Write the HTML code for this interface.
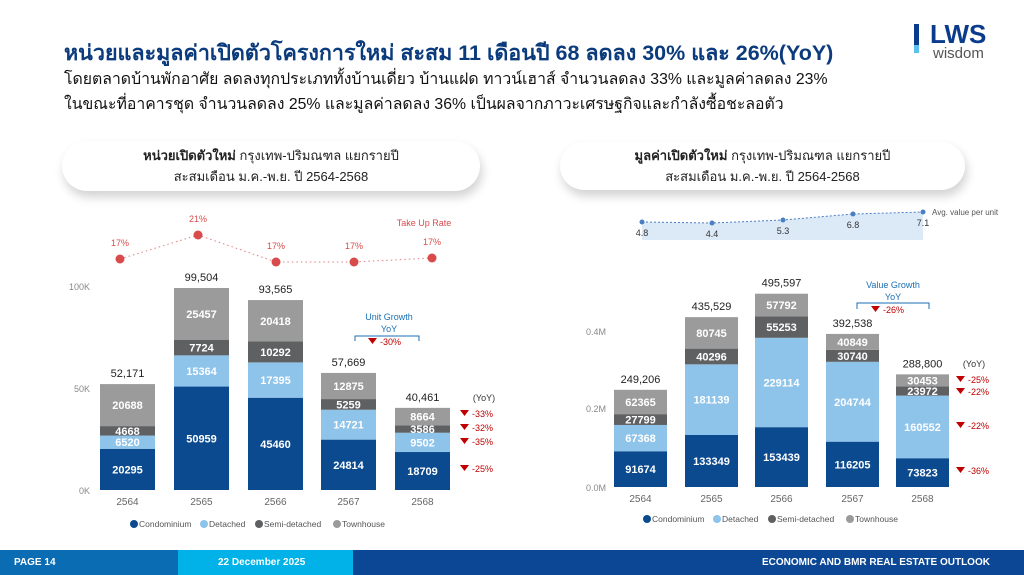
<!DOCTYPE html>
<html><head><meta charset="utf-8"><style>
body{margin:0;width:1024px;height:575px;overflow:hidden;background:#fff;font-family:"Liberation Sans","Noto Sans CJK SC",sans-serif;position:relative}
.t{position:absolute;white-space:nowrap}
.box{position:absolute;background:#fff;border-radius:26px;box-shadow:2px 6px 10px rgba(0,0,0,0.18);text-align:center;font-size:13px;line-height:21px;color:#222}
</style></head><body>
<div class="t" style="left:64px;top:36px;font-size:21.5px;font-weight:bold;color:#0b3b7c">หน่วยและมูลค่าเปิดตัวโครงการใหม่ สะสม 11 เดือนปี 68 ลดลง 30% และ 26%(YoY)</div>
<div class="t" style="left:64px;top:66px;font-size:15.8px;color:#111">โดยตลาดบ้านพักอาศัย ลดลงทุกประเภททั้งบ้านเดี่ยว บ้านแฝด ทาวน์เฮาส์ จำนวนลดลง 33% และมูลค่าลดลง 23%</div>
<div class="t" style="left:64px;top:91px;font-size:15.8px;color:#111">ในขณะที่อาคารชุด จำนวนลดลง 25% และมูลค่าลดลง 36% เป็นผลจากภาวะเศรษฐกิจและกำลังซื้อชะลอตัว</div>
<div style="position:absolute;left:914px;top:24px;width:5px;height:21px;background:#0b3b8c"></div>
<div style="position:absolute;left:914px;top:45px;width:5px;height:8px;background:#5bc0eb"></div>
<div class="t" style="left:930px;top:19px;font-size:26px;font-weight:bold;color:#0b3b8c">LWS</div>
<div class="t" style="left:933px;top:45px;font-size:15px;color:#555">wisdom</div>
<div class="box" style="left:62px;top:141px;width:418px;height:50px;padding-top:4px;box-sizing:border-box"><b>หน่วยเปิดตัวใหม่</b> กรุงเทพ-ปริมณฑล แยกรายปี<br>สะสมเดือน ม.ค.-พ.ย. ปี 2564-2568</div>
<div class="box" style="left:560px;top:142px;width:405px;height:48px;padding-top:3px;box-sizing:border-box"><b>มูลค่าเปิดตัวใหม่</b> กรุงเทพ-ปริมณฑล แยกรายปี<br>สะสมเดือน ม.ค.-พ.ย. ปี 2564-2568</div>
<svg id="s" width="1024" height="575" style="position:absolute;left:0;top:0" font-family="Liberation Sans, sans-serif"></svg>
<div style="position:absolute;left:0;top:550px;width:178px;height:25px;background:#0a6db3"></div>
<div style="position:absolute;left:178px;top:550px;width:175px;height:25px;background:#00b2e8"></div>
<div style="position:absolute;left:353px;top:550px;width:671px;height:25px;background:#0b4794"></div>
<div class="t" style="left:14px;top:557px;font-size:10px;font-weight:bold;color:#fff">PAGE 14</div>
<div class="t" style="left:218px;top:557px;font-size:10px;font-weight:bold;color:#fff">22 December 2025</div>
<div class="t" style="left:762px;top:557px;font-size:10px;font-weight:bold;color:#fff">ECONOMIC AND BMR REAL ESTATE OUTLOOK</div>
<script>
var s=document.getElementById('s'),h='';
var C=['#0b4a8f','#8ec3ea','#5f6062','#9b9b9b'];
function T(x,y,t,sz,c,a,w){h+='<text x="'+x+'" y="'+y+'" font-size="'+sz+'" fill="'+c+'" text-anchor="'+(a||'middle')+'"'+(w?' font-weight="bold"':'')+'>'+t+'</text>';}
function chart(xs,bw,base,k,data,tot,years){
 data.forEach(function(d,i){var y=base;d.forEach(function(v,j){var hh=v*k;h+='<rect x="'+xs[i]+'" y="'+(y-hh)+'" width="'+bw+'" height="'+hh+'" fill="'+C[j]+'"/>';T(xs[i]+bw/2,y-hh/2+4,v,11,'#fff','middle',1);y-=hh;});
 T(xs[i]+bw/2,y-7,tot[i],11,'#222','middle');T(xs[i]+bw/2,base+15,years[i],10,'#666');});
}
function tri(x,y,t){h+='<path d="M'+x+' '+(y-4)+'h9l-4.5 6z" fill="#c00000"/>';T(x+12,y+3,t,9,'#c00000','start');}
var Y=['2564','2565','2566','2567','2568'];
T(90,290,'100K',9,'#888','end');T(90,392,'50K',9,'#888','end');T(90,494,'0K',9,'#888','end');
chart([100,174,248,321,395],55,490,2.03/1000,[[20295,6520,4668,20688],[50959,15364,7724,25457],[45460,17395,10292,20418],[24814,14721,5259,12875],[18709,9502,3586,8664]],['52,171','99,504','93,565','57,669','40,461'],Y);
var tp=[[120,259],[198,235],[276,262],[354,262],[432,258]],tl=['17%','21%','17%','17%','17%'];
h+='<polyline points="'+tp.join(' ')+'" fill="none" stroke="#e08080" stroke-dasharray="1.5 3"/>';
tp.forEach(function(p,i){h+='<circle cx="'+p[0]+'" cy="'+p[1]+'" r="4.5" fill="#d94b4b"/>';T(p[0],p[1]-13,tl[i],9,'#d94b4b');});
T(424,226,'Take Up Rate',9,'#d94b4b');
T(389,320,'Unit Growth',9,'#1a6fb5');T(389,332,'YoY',9,'#1a6fb5');
h+='<path d="M355 341v-5h64v5" fill="none" stroke="#1a6fb5"/>';tri(368,342,'-30%');
T(484,401,'(YoY)',9,'#333');tri(460,414,'-33%');tri(460,428,'-32%');tri(460,442,'-35%');tri(460,469,'-25%');
T(606,335,'0.4M',9,'#888','end');T(606,412,'0.2M',9,'#888','end');T(606,491,'0.0M',9,'#888','end');
chart([614,685,755,826,896],53,487,0.39/1000,[[91674,67368,27799,62365],[133349,181139,40296,80745],[153439,229114,55253,57792],[116205,204744,30740,40849],[73823,160552,23972,30453]],['249,206','435,529','495,597','392,538','288,800'],Y);
var ap=[[642,222],[712,223],[783,220],[853,214],[923,212]],al=['4.8','4.4','5.3','6.8','7.1'];
h+='<path d="M642 222 L712 223 L783 220 L853 214 L923 212 V240 H642Z" fill="#dce9f7"/>';
h+='<polyline points="'+ap.join(' ')+'" fill="none" stroke="#4a7fc4" stroke-dasharray="2 2"/>';
ap.forEach(function(p,i){h+='<circle cx="'+p[0]+'" cy="'+p[1]+'" r="2.5" fill="#4a7fc4"/>';T(p[0],p[1]+14,al[i],9,'#333');});
T(932,215,'Avg. value per unit',8,'#555','start');
T(893,288,'Value Growth',9,'#1a6fb5');T(893,300,'YoY',9,'#1a6fb5');
h+='<path d="M857 309v-6h72v6" fill="none" stroke="#1a6fb5"/>';tri(871,310,'-26%');
T(974,367,'(YoY)',9,'#333');tri(956,380,'-25%');tri(956,392,'-22%');tri(956,426,'-22%');tri(956,471,'-36%');
function leg(x,y){var L=['Condominium','Detached','Semi-detached','Townhouse'],w=[70,55,78,60];L.forEach(function(l,i){h+='<circle cx="'+(x+4)+'" cy="'+(y-3)+'" r="4" fill="'+C[i]+'"/>';T(x+9,y,l,8.5,'#555','start');x+=w[i];});}
leg(130,527);leg(643,522);
s.innerHTML=h;
</script>
</body></html>
